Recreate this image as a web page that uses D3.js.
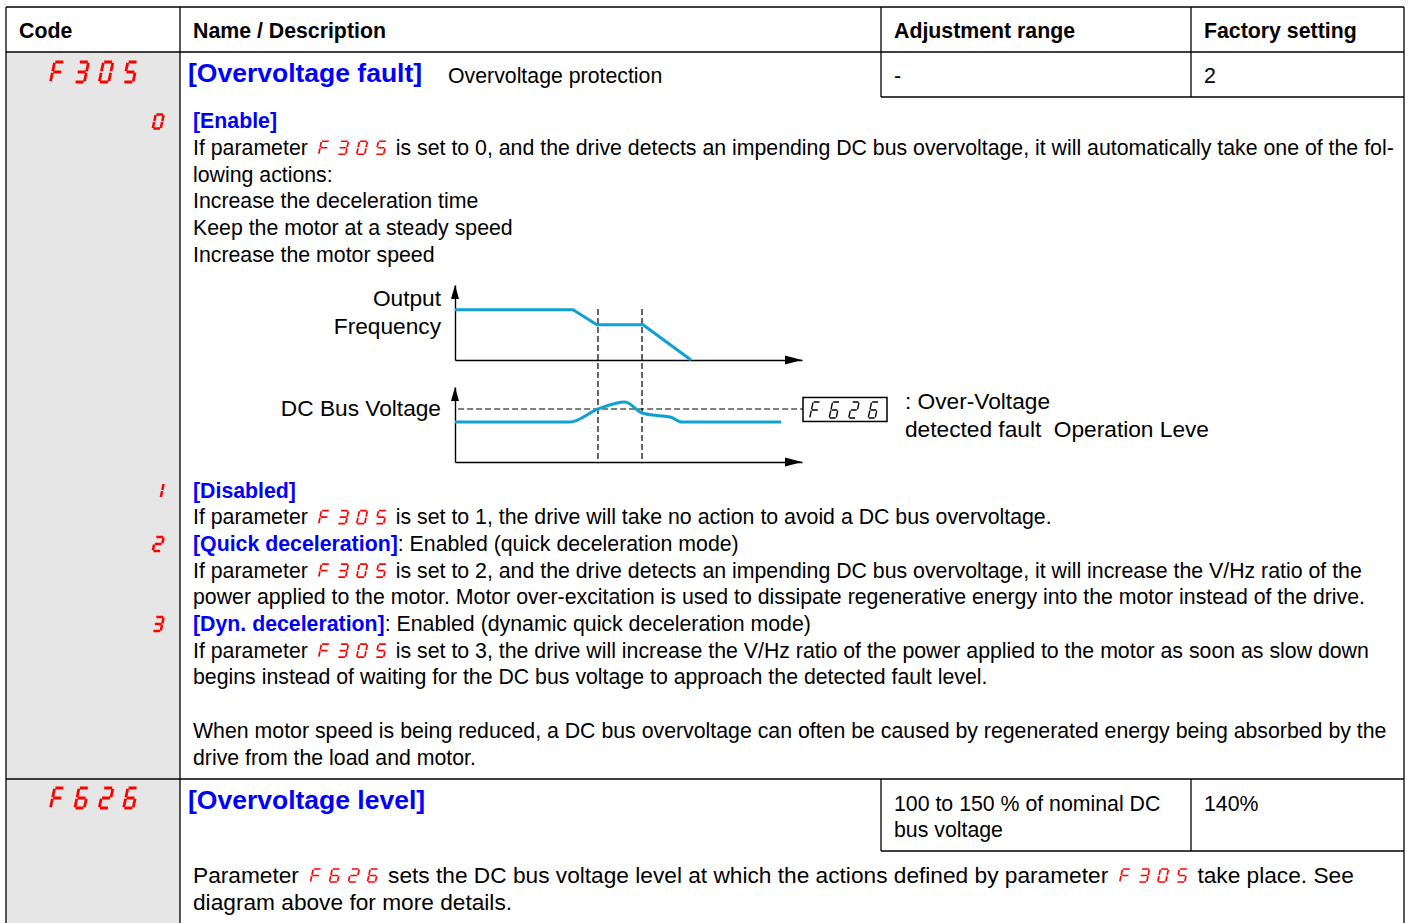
<!DOCTYPE html>
<html><head><meta charset="utf-8">
<script src="https://cdn.jsdelivr.net/npm/d3@7"></script>
<style>body{margin:0;background:#fff;} svg{display:block;}</style>
</head><body>
<svg id="c" width="1408" height="923"></svg>
<script>
// ---------- DATA ----------
const headers = ["Code", "Name / Description", "Adjustment range", "Factory setting"];
const paramCodes = ["F305", "F626"];
const paramTitles = ["[Overvoltage fault]", "[Overvoltage level]"];
const paramSubtitle = "Overvoltage protection";
const adjRanges = [["-"], ["100 to 150 % of nominal DC", "bus voltage"]];
const factory = ["2", "140%"];
const optionCodes = ["0", "1", "2", "3"];
const enableLines = [
  "**[Enable]**",
  "If parameter {F305} is set to 0, and the drive detects an impending DC bus overvoltage, it will automatically take one of the fol-",
  "lowing actions:",
  "Increase the deceleration time",
  "Keep the motor at a steady speed",
  "Increase the motor speed"
];
const optionLines = [
  "**[Disabled]**",
  "If parameter {F305} is set to 1, the drive will take no action to avoid a DC bus overvoltage.",
  "**[Quick deceleration]**: Enabled (quick deceleration mode)",
  "If parameter {F305} is set to 2, and the drive detects an impending DC bus overvoltage, it will increase the V/Hz ratio of the",
  "power applied to the motor. Motor over-excitation is used to dissipate regenerative energy into the motor instead of the drive.",
  "**[Dyn. deceleration]**: Enabled (dynamic quick deceleration mode)",
  "If parameter {F305} is set to 3, the drive will increase the V/Hz ratio of the power applied to the motor as soon as slow down",
  "begins instead of waiting for the DC bus voltage to approach the detected fault level.",
  "",
  "When motor speed is being reduced, a DC bus overvoltage can often be caused by regenerated energy being absorbed by the",
  "drive from the load and motor."
];
const levelLines = [
  "Parameter {F626} sets the DC bus voltage level at which the actions defined by parameter {F305} take place. See",
  "diagram above for more details."
];
// diagram series (time 0..100, value 0..100)
const freqTime  = [0, 34.0, 40.9, 54.2, 68.0];
const freqValue = [67, 67, 47, 47, 0];
const dcTime  = [0, 33.1, 41.2, 49.0, 53.9, 58.2, 62.0, 65.4, 94.0];
const dcValue = [53.3, 53.3, 70.7, 80, 65.3, 62.0, 60.0, 53.3, 53.3];
const markerTimes = [41.2, 53.9];
const thresholdValue = 70.7;
const diagramLabels = ["Output", "Frequency", "DC Bus Voltage"];
const thresholdCode = "F626";
const thresholdNote = [": Over-Voltage", "detected fault  Operation Leve"];

// ---------- STYLE ----------
const FONT = "'Liberation Sans', Arial, Helvetica, sans-serif";
const FS = 21.3;
const FS2 = 22.7;
const BLUE = "#0000ff";
const RED = "#ff0000";
const INK = "#000";
const LINE_COLOR = "#0ea1d4";
const SKEW = Math.tan(12 * Math.PI / 180);

const svg = d3.select("#c").style("font-family", FONT);

// ---------- seven-segment digits ----------
const SEGMAP = {F: "aefg", "0": "abcdef", "1": "bc", "2": "abged", "3": "abcdg", "5": "afgcd", "6": "afgedc"};
function drawDigits(parent, str, x0s, yBottom, w, h, pitch, color, sw) {
  const k = SKEW;
  const gp = Math.max(0.6, w * 0.08), gv = Math.max(0.6, h * 0.035);
  const g = parent.append("g").attr("class", "sevenseg");
  g.append("title").text(str);
  [...str].forEach((ch, i) => {
    const x0 = x0s + i * pitch + sw / 2;
    const P = (px, py) => [x0 + px + (h - py) * k, yBottom - h + py];
    const defs = {
      a: [[gp, 0], [w - gp, 0]], b: [[w, gv], [w, h / 2 - gv]], c: [[w, h / 2 + gv], [w, h - gv]],
      d: [[gp, h], [w - gp, h]], e: [[0, h / 2 + gv], [0, h - gv]], f: [[0, gv], [0, h / 2 - gv]],
      g: [[gp, h / 2], [w - gp, h / 2]]
    };
    let dstr = "";
    for (const s of (SEGMAP[ch] || "")) {
      const [p1, p2] = defs[s];
      const A = P(...p1), B = P(...p2);
      dstr += `M${A[0]},${A[1]}L${B[0]},${B[1]}`;
    }
    g.append("path").attr("d", dstr).attr("stroke", color).attr("stroke-width", sw)
      .attr("fill", "none").attr("stroke-linecap", "butt");
  });
  return g;
}

// ---------- rich text line ----------
function richLine(parent, x, y, str, size) {
  const parts = str.split(/(\*\*[^*]+\*\*|\{[^}]+\})/).filter(s => s.length);
  let cx = x;
  const sc = size / FS;
  parts.forEach(p => {
    if (p.startsWith("{")) {
      const code = p.slice(1, -1);
      const w = 8, h = 13, pitch = 19, sw = 1.7;
      cx += 10 * sc;
      drawDigits(parent, code, cx, y - 0.5, w, h, pitch, RED, sw);
      cx += 3 * pitch + w + h * SKEW + sw + 8.5 * sc;
    } else {
      const bold = p.startsWith("**");
      const txt = bold ? p.slice(2, -2) : p.replace(/^ /, "").replace(/ $/, "");
      const t = parent.append("text").attr("x", cx).attr("y", y).attr("font-size", size)
        .attr("font-weight", bold ? "bold" : "normal").attr("fill", bold ? BLUE : INK)
        .style("white-space", "pre").text(txt);
      cx += t.node().getComputedTextLength();
    }
  });
}

// ---------- TABLE ----------
const TL = 6, TR = 1404, C1 = 180, C2 = 881, C3 = 1191;
const TT = 7, hdrB = 52, row1B = 779, TH = 923;
const tbl = svg.append("g");
tbl.append("rect").attr("x", TL).attr("y", hdrB).attr("width", C1 - TL).attr("height", TH - hdrB).attr("fill", "#e6e6e6");
const gridLines = [
  [TL, TT, TR, TT], [TL, hdrB, TR, hdrB], [TL, row1B, TR, row1B],
  [TL, TT, TL, TH], [TR, TT, TR, TH], [C1, TT, C1, TH],
  [C2, TT, C2, 97], [C3, TT, C3, 97], [C2, 97, TR, 97],
  [C2, row1B, C2, 851], [C3, row1B, C3, 851], [C2, 851, TR, 851]
];
tbl.selectAll("line.grid").data(gridLines).join("line").attr("class", "grid")
  .attr("x1", d => d[0]).attr("y1", d => d[1]).attr("x2", d => d[2]).attr("y2", d => d[3])
  .attr("stroke", INK).attr("stroke-width", 1.3);

// headers
const hx = [19, 193, 894, 1204];
svg.selectAll("text.hdr").data(headers).join("text").attr("class", "hdr")
  .attr("x", (d, i) => hx[i]).attr("y", 37.5).attr("font-size", FS).attr("font-weight", "bold")
  .attr("fill", INK).text(d => d);

// row codes
const rowBase = [82, 808];
paramCodes.forEach((c, i) => drawDigits(svg, c, 49, rowBase[i], 9.5, 20, 24.4, RED, 2.8));
paramTitles.forEach((t, i) => svg.append("text").attr("x", 188).attr("y", rowBase[i] + (i ? 0.5 : 0))
  .attr("font-size", 26.5).attr("font-weight", "bold").attr("fill", BLUE).text(t));
svg.append("text").attr("x", 448).attr("y", 82.5).attr("font-size", FS).attr("fill", INK).text(paramSubtitle);
const adjY = [82.5, 810.5];
adjRanges.forEach((lns, i) => lns.forEach((s, j) =>
  svg.append("text").attr("x", 894).attr("y", adjY[i] + j * 26).attr("font-size", FS).attr("fill", INK).text(s)));
factory.forEach((s, i) => svg.append("text").attr("x", 1204).attr("y", adjY[i]).attr("font-size", FS).attr("fill", INK).text(s));

// body text
const LH = 26.75;
enableLines.forEach((s, i) => richLine(svg, 193, 128 + i * LH, s, FS));
const optStart = 497.5, OLH = 26.7;
optionLines.forEach((s, i) => { if (s) richLine(svg, 193, optStart + i * OLH, s, FS); });
levelLines.forEach((s, i) => richLine(svg, 193, 882.5 + i * 27.5, s, FS2));

// option codes
const optionCenters = [121.5, optStart - 7, optStart + 2 * OLH - 7, optStart + 5 * OLH - 7];
optionCodes.forEach((c, i) => drawDigits(svg, c, 151.5, optionCenters[i] + 7, 8, 14, 0, RED, 2.5));

// ---------- DIAGRAM ----------
const x = d3.scaleLinear().domain([0, 100]).range([455, 802]);
const yF = d3.scaleLinear().domain([0, 100]).range([360, 285]);
const yD = d3.scaleLinear().domain([0, 100]).range([462, 387]);
const dg = svg.append("g");

function axisPair(yScale) {
  const y0 = yScale(0);
  dg.append("g").attr("transform", `translate(0,${y0})`)
    .call(d3.axisBottom(x).ticks(0).tickSizeOuter(0))
    .call(g => g.select(".domain").attr("stroke", INK).attr("stroke-width", 1.4))
    .call(g => g.selectAll(".tick").remove());
  dg.append("g").attr("transform", `translate(${x(0)},0)`)
    .call(d3.axisLeft(yScale).ticks(0).tickSizeOuter(0))
    .call(g => g.select(".domain").attr("stroke", INK).attr("stroke-width", 1.4))
    .call(g => g.selectAll(".tick").remove());
  const xe = x(100), ye = yScale(100);
  dg.append("path").attr("d", `M${xe},${y0}L${xe - 17},${y0 - 4.5}L${xe - 17},${y0 + 4.5}Z`).attr("fill", INK);
  dg.append("path").attr("d", `M${x(0)},${ye}L${x(0) - 4},${ye + 14}L${x(0) + 4},${ye + 14}Z`).attr("fill", INK);
}
axisPair(yF);
axisPair(yD);

// marker dashed verticals
dg.selectAll("line.mk").data(markerTimes).join("line").attr("class", "mk")
  .attr("x1", d => x(d)).attr("x2", d => x(d)).attr("y1", yF(68)).attr("y2", yD(-1.5))
  .attr("stroke", INK).attr("stroke-width", 1.2).attr("stroke-dasharray", "6,3");

// threshold dashed line + box
const boxX = x(100) + 1, boxW = 84, boxY = yD(thresholdValue) - 11.5, boxH = 24;
dg.append("line").attr("x1", x(0.9)).attr("x2", boxX).attr("y1", yD(thresholdValue)).attr("y2", yD(thresholdValue))
  .attr("stroke", INK).attr("stroke-width", 1.2).attr("stroke-dasharray", "6,3");
dg.append("rect").attr("x", boxX).attr("y", boxY).attr("width", boxW).attr("height", boxH)
  .attr("fill", "#fff").attr("stroke", INK).attr("stroke-width", 1.5);
drawDigits(dg, thresholdCode, boxX + 6, boxY + 20.5, 7, 16, 19.5, INK, 1.4);

// series
const freqData = freqTime.map((t, i) => [t, freqValue[i]]);
const dcData = dcTime.map((t, i) => [t, dcValue[i]]);
dg.append("path").datum(freqData).attr("fill", "none").attr("stroke", LINE_COLOR).attr("stroke-width", 3)
  .attr("d", d3.line().x(d => x(d[0])).y(d => yF(d[1])));
dg.append("path").datum(dcData).attr("fill", "none").attr("stroke", LINE_COLOR).attr("stroke-width", 3)
  .attr("d", d3.line().curve(d3.curveMonotoneX).x(d => x(d[0])).y(d => yD(d[1])));

// labels
dg.append("text").attr("x", 441).attr("y", 306).attr("text-anchor", "end").attr("font-size", FS2).text(diagramLabels[0]);
dg.append("text").attr("x", 441).attr("y", 334).attr("text-anchor", "end").attr("font-size", FS2).text(diagramLabels[1]);
dg.append("text").attr("x", 441).attr("y", 416).attr("text-anchor", "end").attr("font-size", FS2).text(diagramLabels[2]);
thresholdNote.forEach((s, i) => dg.append("text").attr("x", 905).attr("y", 409 + i * 28)
  .attr("font-size", FS2).style("white-space", "pre").text(s));
</script>
</body></html>
